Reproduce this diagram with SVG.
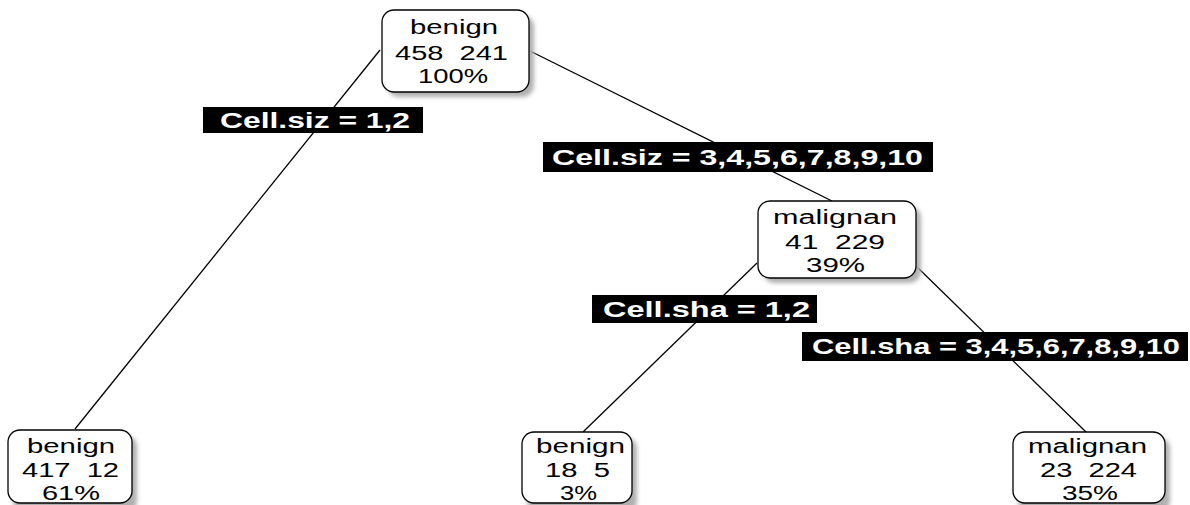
<svg xmlns="http://www.w3.org/2000/svg" width="1190" height="505" viewBox="0 0 1190 505">
<defs>
<filter id="sh" x="-20%" y="-20%" width="140%" height="140%"><feGaussianBlur stdDeviation="2"/></filter>
</defs>
<style>
.box{fill:#fff;stroke:#000;stroke-width:1.3}
.shadow{fill:#b0b0b0;filter:url(#sh)}
.nt{font-family:"Liberation Sans",Arial,sans-serif;font-size:20px;fill:#000;white-space:pre}
.lb{fill:#000}
.lt{font-family:"Liberation Sans",Arial,sans-serif;font-size:22px;font-weight:bold;fill:#fff}
.edge{stroke:#000;stroke-width:1.3;fill:none}
</style>
<rect width="1190" height="505" fill="#fff"/>
<g id="connectors">
<line class="edge" x1="380" y1="50" x2="75" y2="429"/>
<line class="edge" x1="528" y1="50" x2="832" y2="201"/>
<line class="edge" x1="757" y1="263" x2="583" y2="432"/>
<line class="edge" x1="915" y1="265" x2="1086" y2="432"/>
</g>
<g id="node-root">
<rect class="shadow" x="387" y="15" width="147" height="82" rx="12"/>
<rect class="box" x="382" y="10" width="147" height="82" rx="12"/>
<text class="nt" x="410" y="34" textLength="88" lengthAdjust="spacingAndGlyphs">benign</text>
<text class="nt" x="395" y="60" textLength="113" lengthAdjust="spacingAndGlyphs" xml:space="preserve">458  241</text>
<text class="nt" x="418" y="83" textLength="70" lengthAdjust="spacingAndGlyphs">100%</text>
</g>
<g id="node-mal">
<rect class="shadow" x="763" y="206" width="158" height="77" rx="12"/>
<rect class="box" x="758" y="201" width="158" height="77" rx="12"/>
<text class="nt" x="773" y="224" textLength="124" lengthAdjust="spacingAndGlyphs">malignan</text>
<text class="nt" x="785" y="249" textLength="100" lengthAdjust="spacingAndGlyphs" xml:space="preserve">41  229</text>
<text class="nt" x="806" y="272" textLength="59" lengthAdjust="spacingAndGlyphs">39%</text>
</g>
<g id="node-left">
<rect class="shadow" x="13" y="435" width="124" height="78" rx="12"/>
<rect class="box" x="8" y="430" width="124" height="73" rx="12"/>
<text class="nt" x="27" y="453" textLength="88" lengthAdjust="spacingAndGlyphs">benign</text>
<text class="nt" x="22" y="477" textLength="97" lengthAdjust="spacingAndGlyphs" xml:space="preserve">417  12</text>
<text class="nt" x="42" y="500" textLength="58" lengthAdjust="spacingAndGlyphs">61%</text>
</g>
<g id="node-mid">
<rect class="shadow" x="527" y="437" width="110" height="76" rx="12"/>
<rect class="box" x="522" y="432" width="110" height="71" rx="12"/>
<text class="nt" x="536" y="453" textLength="89" lengthAdjust="spacingAndGlyphs">benign</text>
<text class="nt" x="545" y="477" textLength="65" lengthAdjust="spacingAndGlyphs" xml:space="preserve">18  5</text>
<text class="nt" x="560" y="500" textLength="37" lengthAdjust="spacingAndGlyphs">3%</text>
</g>
<g id="node-right">
<rect class="shadow" x="1018" y="437" width="152" height="76" rx="12"/>
<rect class="box" x="1013" y="432" width="152" height="71" rx="12"/>
<text class="nt" x="1028" y="453" textLength="119" lengthAdjust="spacingAndGlyphs">malignan</text>
<text class="nt" x="1040" y="477" textLength="97" lengthAdjust="spacingAndGlyphs" xml:space="preserve">23  224</text>
<text class="nt" x="1062" y="500" textLength="56" lengthAdjust="spacingAndGlyphs">35%</text>
</g>
<g id="label-1">
<rect class="lb" x="203" y="107" width="220" height="26"/>
<text class="lt" x="220" y="128" textLength="190" lengthAdjust="spacingAndGlyphs">Cell.siz = 1,2</text>
</g>
<g id="label-2">
<rect class="lb" x="543" y="142" width="390" height="30"/>
<text class="lt" x="552" y="165" textLength="371" lengthAdjust="spacingAndGlyphs">Cell.siz = 3,4,5,6,7,8,9,10</text>
</g>
<g id="label-3">
<rect class="lb" x="592" y="295" width="225" height="28"/>
<text class="lt" x="603" y="317" textLength="207" lengthAdjust="spacingAndGlyphs">Cell.sha = 1,2</text>
</g>
<g id="label-4">
<rect class="lb" x="802" y="332" width="386" height="29"/>
<text class="lt" x="812" y="354" textLength="368" lengthAdjust="spacingAndGlyphs">Cell.sha = 3,4,5,6,7,8,9,10</text>
</g>
</svg>
